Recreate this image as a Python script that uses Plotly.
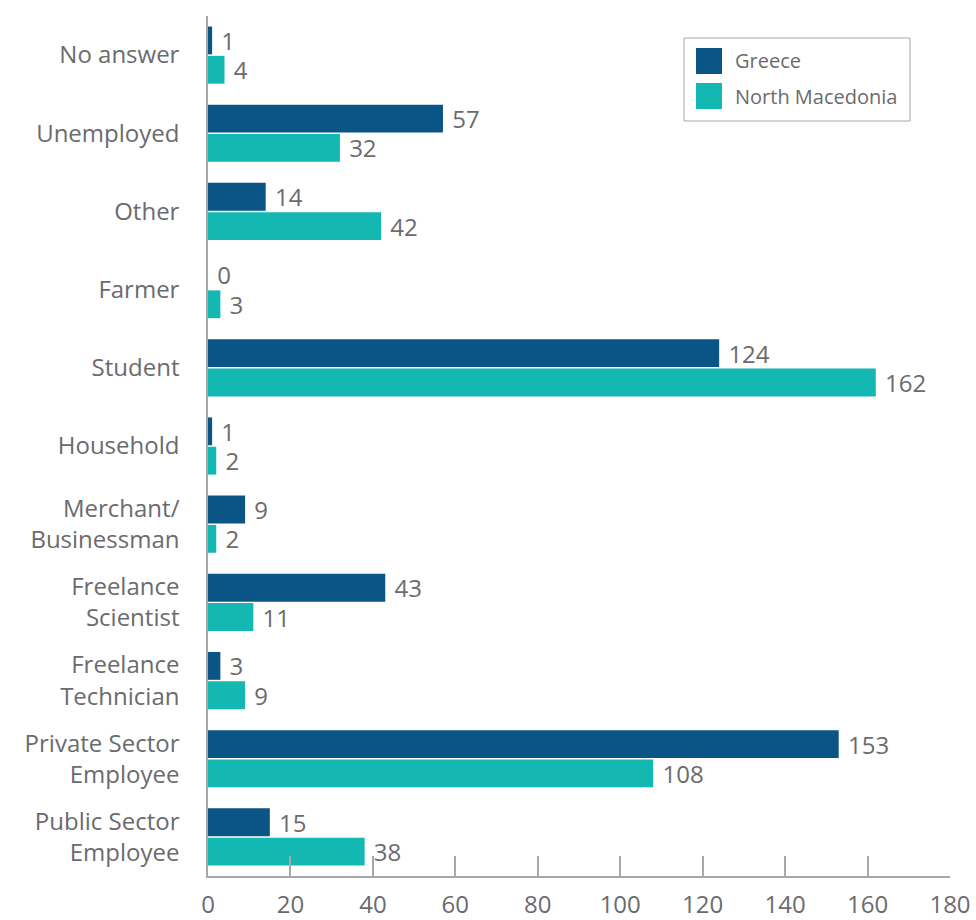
import plotly.graph_objects as go

# Occupation categories, top to bottom
categories = [
    "No answer", "Unemployed", "Other", "Farmer", "Student", "Household",
    "Merchant/<br>Businessman", "Freelance<br>Scientist", "Freelance<br>Technician",
    "Private Sector<br>Employee", "Public Sector<br>Employee",
]
greece = [1, 57, 14, 0, 124, 1, 9, 43, 3, 153, 15]
north_macedonia = [4, 32, 42, 3, 162, 2, 2, 11, 9, 108, 38]
x_ticks = [0, 20, 40, 60, 80, 100, 120, 140, 160, 180]

series = [("Greece", greece, "#0a5586"), ("North Macedonia", north_macedonia, "#12b8b1")]

FONT = "Open Sans"
GREY = "#6b6b6e"

fig = go.Figure()
for name, vals, color in series:
    fig.add_trace(go.Bar(
        y=categories, x=vals, name=name, orientation="h",
        marker=dict(color=color, line=dict(width=0)),
        text=[" " + str(v) for v in vals], textposition="outside",
        textfont=dict(family=FONT, size=24, color=GREY),
        constraintext="none", cliponaxis=False, showlegend=False,
    ))

fig.update_layout(
    width=976, height=920,
    margin=dict(l=208, r=26, t=16, b=44),
    paper_bgcolor="white", plot_bgcolor="white",
    barmode="group", bargap=0.25, bargroupgap=0.05,
    font=dict(family=FONT, color=GREY),
)
fig.update_xaxes(
    range=[0, 180], tickvals=x_ticks, showgrid=False, zeroline=False,
    showline=True, linecolor="#a8a8a8", linewidth=1.5,
    ticks="inside", ticklen=20, tickcolor="#a8a8a8", tickwidth=1.5,
    tickfont=dict(family=FONT, size=24, color=GREY), ticklabelstandoff=6,
    automargin=False,
)
fig.update_yaxes(
    autorange="reversed", showgrid=False, zeroline=False,
    showline=True, linecolor="#a8a8a8", linewidth=1.5, ticks="",
    tickfont=dict(family=FONT, size=24, color=GREY), ticklabelstandoff=22,
    automargin=False,
)

# Legend box with colour swatches
fig.add_shape(type="rect", xref="paper", yref="paper",
              x0=(684 - 208) / 742, x1=(910 - 208) / 742,
              y0=(876 - 121) / 860, y1=(876 - 38) / 860,
              line=dict(color="#a8a8a8", width=1), fillcolor="white")
for i, (name, _, color) in enumerate(series):
    cy = 61 + i * 35
    fig.add_shape(type="rect", xref="paper", yref="paper",
                  x0=(696 - 208) / 742, x1=(722 - 208) / 742,
                  y0=(876 - cy - 13) / 860, y1=(876 - cy + 13) / 860,
                  line=dict(width=0), fillcolor=color)
    fig.add_annotation(text=name, xref="paper", yref="paper",
                       x=(733 - 208) / 742, y=(876 - cy) / 860,
                       xanchor="left", yanchor="middle", showarrow=False,
                       font=dict(family=FONT, size=20, color=GREY))

fig.write_html("out.html")
